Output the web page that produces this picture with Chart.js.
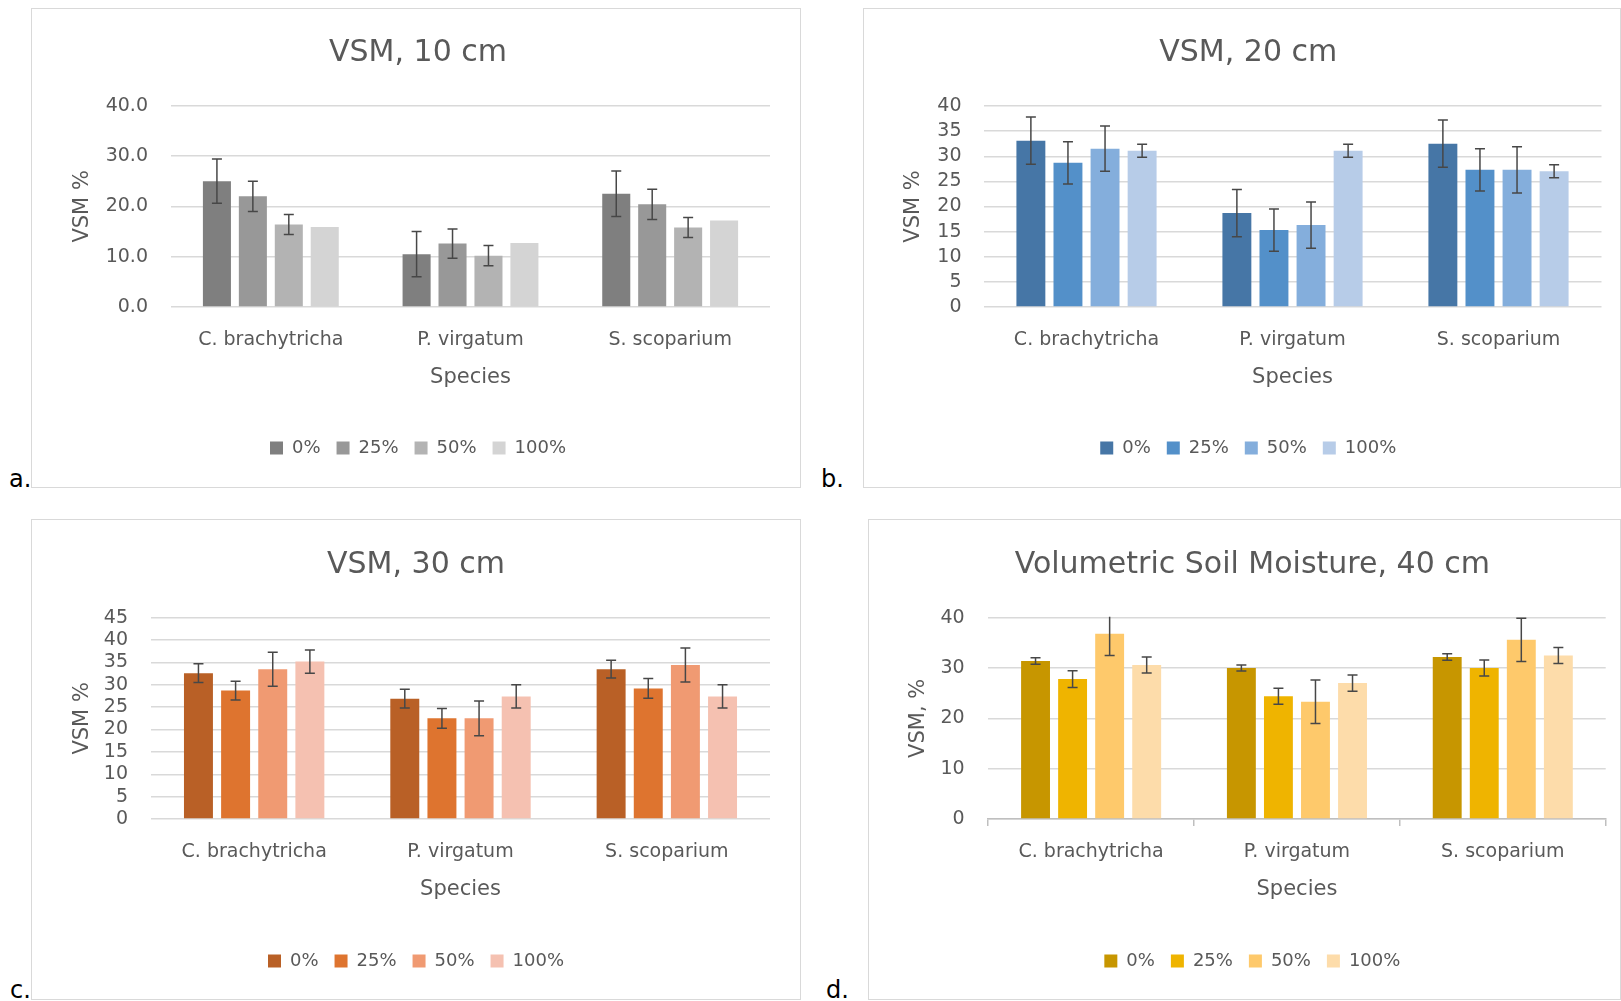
<!DOCTYPE html>
<html>
<head>
<meta charset="utf-8">
<title>Volumetric soil moisture by depth</title>
<script src="https://cdn.jsdelivr.net/npm/chart.js@4.4.1/dist/chart.umd.min.js"></script>
<style>
  body { margin: 0; background: #fff; width: 1621px; height: 1001px; position: relative; overflow: hidden; font-family: "DejaVu Sans", sans-serif; }
  .panel { position: absolute; border: 1px solid #d9d9d9; box-sizing: border-box; }
  canvas { position: absolute; }
  .tag { position: absolute; font-size: 24px; line-height: 24px; color: #000; }
</style>
</head>
<body>
<div class="panel" style="left:31px;top:8px;width:770px;height:480px"></div>
<div class="panel" style="left:863px;top:8px;width:758px;height:480px"></div>
<div class="panel" style="left:31px;top:519px;width:770px;height:481px"></div>
<div class="panel" style="left:868px;top:519px;width:753px;height:481px"></div>
<canvas id="vsm10"></canvas>
<canvas id="vsm20"></canvas>
<canvas id="vsm30"></canvas>
<canvas id="vsm40"></canvas>
<div class="tag" style="left:9px;top:467px">a.</div>
<div class="tag" style="left:821px;top:467px">b.</div>
<div class="tag" style="left:10px;top:978px">c.</div>
<div class="tag" style="left:826px;top:978px">d.</div>
<script>
const species = ["C. brachytricha", "P. virgatum", "S. scoparium"];
const treatments = ["0%", "25%", "50%", "100%"];

// one row per treatment (0%, 25%, 50%, 100%), one column per species
const mean10 = [[25.0, 10.5, 22.5], [22.0, 12.6, 20.4], [16.4, 10.2, 15.8], [15.9, 12.7, 17.2]];
const err10 = [[4.4, 4.5, 4.5], [3.0, 2.9, 3.0], [2.0, 2.0, 2.0], null];

const mean20 = [[33.1, 18.7, 32.5], [28.7, 15.3, 27.3], [31.5, 16.3, 27.3], [31.1, 31.1, 27.0]];
const err20 = [[4.7, 4.7, 4.7], [4.2, 4.2, 4.2], [4.5, 4.6, 4.6], [1.3, 1.3, 1.3]];

const mean30 = [[32.6, 26.9, 33.5], [28.7, 22.5, 29.2], [33.5, 22.5, 34.4], [35.2, 27.4, 27.4]];
const err30 = [[2.1, 2.1, 2.0], [2.1, 2.2, 2.2], [3.8, 3.9, 3.8], [2.6, 2.6, 2.6]];

const mean40 = [[31.4, 30.0, 32.2], [27.8, 24.4, 30.0], [36.8, 23.3, 35.6], [30.6, 27.0, 32.5]];
const err40 = [[0.65, 0.6, 0.65], [1.65, 1.6, 1.6], [4.3, 4.3, 4.3], [1.6, 1.6, 1.6]];

const ticks10 = [0, 10, 20, 30, 40];
const ticks20 = [0, 5, 10, 15, 20, 25, 30, 35, 40];
const ticks30 = [0, 5, 10, 15, 20, 25, 30, 35, 40, 45];
const ticks40 = [0, 10, 20, 30, 40];

const grays = ["#7f7f7f", "#989898", "#b3b3b3", "#d4d4d4"];
const blues = ["#4676a6", "#5390c9", "#84aedc", "#b7cce8"];
const oranges = ["#b96026", "#de742f", "#f09a72", "#f5c1b1"];
const golds = ["#c79600", "#efb400", "#fec96b", "#fddcaa"];

const TEXT = "#595959";
const GRID = "#d9d9d9";
const TITLE_SIZE = 30, TICK_SIZE = 19, AXIS_SIZE = 21, LEGEND_SIZE = 18;
const LEGEND_PAD = 16;

Chart.defaults.font.family = "'DejaVu Sans', sans-serif";
Chart.defaults.color = TEXT;

// whiskers drawn on top of the bars from each dataset's "errors" list
const errorBars = {
  id: "errorBars",
  afterDatasetsDraw(chart) {
    const { ctx, chartArea } = chart;
    const y = chart.scales.y;
    ctx.save();
    ctx.beginPath();
    ctx.rect(chartArea.left, chartArea.top - 1, chartArea.width, chartArea.height + 1);
    ctx.clip();
    ctx.strokeStyle = "#474747";
    ctx.lineWidth = 1.5;
    chart.data.datasets.forEach((ds, i) => {
      if (!ds.errors) return;
      chart.getDatasetMeta(i).data.forEach((bar, j) => {
        const e = ds.errors[j];
        const hi = y.getPixelForValue(ds.data[j] + e);
        const lo = y.getPixelForValue(ds.data[j] - e);
        ctx.beginPath();
        ctx.moveTo(bar.x, hi);
        ctx.lineTo(bar.x, lo);
        ctx.moveTo(bar.x - 5, hi);
        ctx.lineTo(bar.x + 5, hi);
        ctx.moveTo(bar.x - 5, lo);
        ctx.lineTo(bar.x + 5, lo);
        ctx.stroke();
      });
    });
    ctx.restore();
  }
};

// box: where the plot, title, labels and legend sit on the page.
// Title and legend are centred between the canvas left edge and the plot's
// right edge, so the canvas starts at 2 * centreX - plotRight.
function makeChart(id, box, spec) {
  const canvas = document.getElementById(id);
  const x0 = 2 * box.centerX - box.plotRight;
  const W = box.x1 - x0;
  const H = box.bottom - box.top;
  canvas.style.left = x0 + "px";
  canvas.style.top = box.top + "px";
  canvas.width = W;
  canvas.height = H;

  const plotTop = box.plotTop - box.top;
  const plotBottom = box.plotBottom - box.top;
  const titleMid = box.titleY - box.top;
  const titleLH = TITLE_SIZE * 1.2;
  const axisLH = AXIS_SIZE * 1.2;
  const tickLH = TICK_SIZE * 1.2;
  const padBottom = H - 10 - LEGEND_SIZE / 2 - (box.legendY - box.top);
  const legendTop = H - padBottom - (LEGEND_SIZE + LEGEND_PAD + 10);
  const tickMark = box.tickMark || 0;
  const yWidth = box.plotLeft - x0;
  const xHeight = legendTop - plotBottom;

  const datasets = treatments.map((t, i) => ({
    label: t,
    data: spec.means[i],
    errors: spec.errors[i],
    backgroundColor: spec.colors[i],
    borderWidth: 0,
    categoryPercentage: 0.72,
    barPercentage: 0.78
  }));

  const xAxis = {
    offset: true,
    grid: { display: false, drawTicks: false },
    border: { display: false },
    ticks: {
      font: { size: TICK_SIZE },
      padding: box.tickY - box.plotBottom - tickMark - tickLH / 2,
      maxRotation: 0,
      autoSkip: false
    },
    title: {
      display: true,
      text: "Species",
      font: { size: AXIS_SIZE },
      padding: { top: 0, bottom: legendTop - axisLH / 2 - (box.axisTitleY - box.top) }
    },
    afterFit(scale) { scale.height = xHeight; }
  };
  if (tickMark) {
    xAxis.grid = { display: true, drawOnChartArea: false, drawTicks: true, tickLength: tickMark, color: "#bfbfbf", lineWidth: 1.5, offset: true };
    xAxis.border = { display: true, color: "#bfbfbf", width: 1.5 };
  }

  return new Chart(canvas, {
    type: "bar",
    data: { labels: species, datasets: datasets },
    options: {
      responsive: false,
      animation: false,
      devicePixelRatio: 1,
      layout: { padding: { top: 0, left: 0, right: box.x1 - box.plotRight, bottom: padBottom } },
      plugins: {
        title: {
          display: true,
          text: spec.title,
          font: { size: TITLE_SIZE, weight: "normal" },
          color: TEXT,
          padding: { top: titleMid - titleLH / 2, bottom: plotTop - titleMid - titleLH / 2 }
        },
        legend: {
          position: "bottom",
          labels: { boxWidth: 13, boxHeight: 13, padding: LEGEND_PAD, font: { size: LEGEND_SIZE }, color: TEXT }
        },
        tooltip: { enabled: false }
      },
      scales: {
        x: xAxis,
        y: {
          min: spec.ticks[0],
          max: spec.ticks[spec.ticks.length - 1],
          grid: { color: GRID, lineWidth: 1.5, drawTicks: false },
          border: { display: false },
          ticks: {
            stepSize: spec.ticks[1] - spec.ticks[0],
            autoSkip: false,
            font: { size: TICK_SIZE },
            padding: box.plotLeft - box.yLabelRight,
            callback: spec.format
          },
          title: {
            display: true,
            text: spec.yTitle,
            font: { size: AXIS_SIZE },
            padding: { top: box.yTitleX - x0 - axisLH / 2, bottom: 0 }
          },
          afterFit(scale) { scale.width = yWidth; }
        }
      }
    },
    plugins: [errorBars]
  });
}

makeChart("vsm10",
  { centerX: 418, x1: 800, top: 9, bottom: 486, plotLeft: 171, plotRight: 770, plotTop: 105.7, plotBottom: 307,
    titleY: 53, tickY: 340, axisTitleY: 378, legendY: 448, yTitleX: 83, yLabelRight: 148 },
  { title: "VSM, 10 cm", yTitle: "VSM %", means: mean10, errors: err10, colors: grays, ticks: ticks10,
    format: v => v.toFixed(1) });

makeChart("vsm20",
  { centerX: 1248, x1: 1618, top: 9, bottom: 486, plotLeft: 983, plotRight: 1601.5, plotTop: 106, plotBottom: 307,
    titleY: 53, tickY: 340, axisTitleY: 378, legendY: 448, yTitleX: 913, yLabelRight: 961 },
  { title: "VSM, 20 cm", yTitle: "VSM %", means: mean20, errors: err20, colors: blues, ticks: ticks20,
    format: v => v });

makeChart("vsm30",
  { centerX: 416, x1: 800, top: 520, bottom: 998, plotLeft: 151, plotRight: 770, plotTop: 617.7, plotBottom: 819,
    titleY: 565, tickY: 852, axisTitleY: 890, legendY: 961, yTitleX: 83, yLabelRight: 128 },
  { title: "VSM, 30 cm", yTitle: "VSM %", means: mean30, errors: err30, colors: oranges, ticks: ticks30,
    format: v => v });

makeChart("vsm40",
  { centerX: 1253, x1: 1620, top: 520, bottom: 998, plotLeft: 988.5, plotRight: 1606.7, plotTop: 617.7, plotBottom: 819,
    titleY: 565, tickY: 852, axisTitleY: 890, legendY: 961, yTitleX: 919, yLabelRight: 965, tickMark: 7 },
  { title: "Volumetric Soil Moisture, 40 cm", yTitle: "VSM, %", means: mean40, errors: err40, colors: golds, ticks: ticks40,
    format: v => v });
</script>
</body>
</html>
